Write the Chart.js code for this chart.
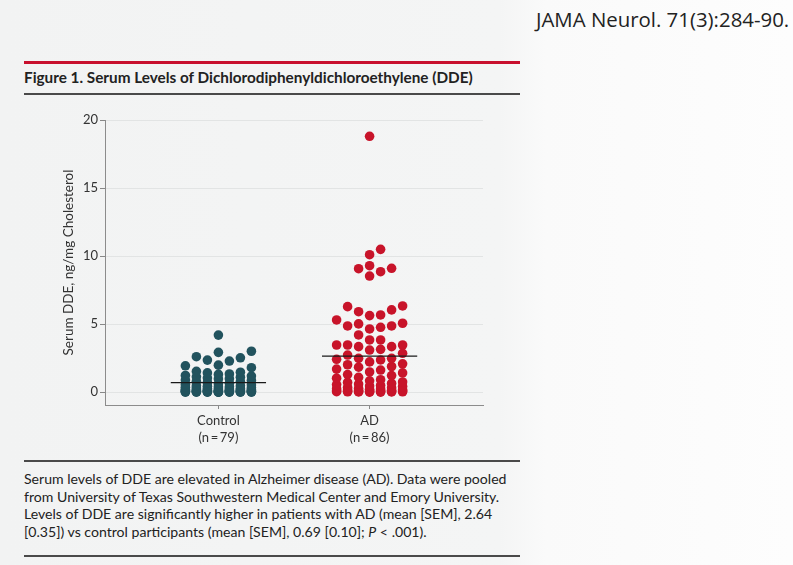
<!DOCTYPE html>
<html>
<head>
<meta charset="utf-8">
<script src="https://cdn.jsdelivr.net/npm/chart.js@4"></script>
<style>
  body { margin: 0; width: 793px; height: 565px; position: relative; overflow: hidden;
         background: linear-gradient(to right, #f2f3f3 0, #f4f5f5 500px, #fafafa 545px, #fdfdfd 100%);
         font-family: Lato, "Open Sans", sans-serif; color: #222; }
  #cite { position: absolute; left: 536px; top: 6px; font: 20.4px/27px "Open Sans", sans-serif; color: #222; }
  .rule { position: absolute; left: 24px; width: 496px; background: #4a4a4a; }
  #red { top: 61px; height: 3px; background: #c8102e; }
  #rule1 { top: 93px; height: 1.5px; }
  #rule2 { top: 460px; height: 1.5px; }
  #rule3 { top: 555px; height: 1.5px; }
  #title { position: absolute; left: 24px; top: 68px; font: bold 15.3px/18px Lato, sans-serif; color: #222; }
  #wrap { position: absolute; left: 0; top: 100px; width: 520px; height: 360px; }
  #caption { position: absolute; left: 24px; top: 470px; width: 500px; font: 14.1px/17.5px Lato, sans-serif; color: #222; }
</style>
</head>
<body>
<div id="cite">JAMA Neurol. 71(3):284-90.</div>
<div class="rule" id="red"></div>
<div id="title">Figure 1. Serum Levels of Dichlorodiphenyldichloroethylene (DDE)</div>
<div class="rule" id="rule1"></div>
<div id="wrap"><canvas id="chart" width="520" height="360"></canvas></div>
<div class="rule" id="rule2"></div>
<div id="caption">Serum levels of DDE are elevated in Alzheimer disease (AD). Data were pooled<br>from University of Texas Southwestern Medical Center and Emory University.<br>Levels of DDE are significantly higher in patients with AD (mean [SEM], 2.64<br>[0.35]) vs control participants (mean [SEM], 0.69 [0.10]; <i>P</i> &lt; .001).</div>
<div class="rule" id="rule3"></div>

<script>
// ---- data ----
const categories = ['Control', 'AD'];
const groupSizes = [79, 86];
const groupMeans = [0.69, 2.64];   // from the legend text
const yTicks = [0, 5, 10, 15, 20];

const controlValues = [
  4.19, 3.0, 2.92, 2.6, 2.52, 2.35, 2.28, 1.98, 1.93, 1.79,
  1.52, 1.46, 1.41, 1.33, 1.3, 1.22, 1.18, 1.12, 1.09, 1.03,
  0.98, 0.96, 0.88, 0.86, 0.79, 0.77, 0.71, 0.64, 0.61, 0.56,
  0.52, 0.47, 0.46, 0.43, 0.39, 0.38, 0.36, 0.31, 0.3, 0.27,
  0.26, 0.23, 0.22, 0.2, 0.18, 0.18, 0.16, 0.14, 0.13, 0.12,
  0.11, 0.1, 0.09, 0.09, 0.08, 0.07, 0.07, 0.06, 0.05, 0.05,
  0.04, 0.04, 0.03, 0.03, 0.02, 0.02, 0.02, 0.01, 0.01, 0.01,
  0.01, 0.0, 0.0, 0.0, 0.0, 0.0, 0.0, 0.0, 0.0
];

const adValues = [
  18.8, 10.49, 10.1, 9.29, 9.1, 9.07, 8.85, 8.53,
  6.33, 6.28, 6.04, 5.91, 5.67, 5.62, 5.3, 5.06, 5.01, 4.86,
  4.86, 4.76, 4.64, 4.2, 3.83, 3.83, 3.46, 3.46, 3.46, 3.34,
  3.34, 3.14, 3.09, 2.85, 2.72, 2.48, 2.48, 2.41, 2.36,
  2.22, 2.08, 2.01, 1.88, 1.83, 1.69, 1.62, 1.48, 1.41, 1.29,
  1.21, 1.08, 1.02, 0.91, 0.83, 0.74, 0.71, 0.63, 0.59, 0.55,
  0.49, 0.44, 0.41, 0.34, 0.31, 0.27, 0.25, 0.23, 0.2, 0.17,
  0.16, 0.14, 0.12, 0.1, 0.1, 0.08, 0.07, 0.06, 0.05, 0.05,
  0.04, 0.03, 0.03, 0.02, 0.02, 0.01, 0.01, 0.0, 0.0
];

const COLORS = ['#22535e', '#c8142a'];
const FONT = { family: 'Lato, "Open Sans", sans-serif', size: 13, lineHeight: 1.3 };

// simple column beeswarm: each point goes to the nearest free column slot,
// or the least crowded one when all seven are taken
function swarm(values, center, xs, ys) {
  const gap = 11, minDist = 10, order = [0, 1, -1, 2, -2, 3, -3];
  const pxPerX = Math.abs(xs.getPixelForValue(1) - xs.getPixelForValue(0));
  const placed = [];
  return values.slice().sort((a, b) => a - b).map(v => {
    const py = ys.getPixelForValue(v);
    let best = 0, bestD = -1;
    for (const c of order) {
      let d = Infinity;
      placed.forEach(p => { d = Math.min(d, Math.hypot((p.c - c) * gap, p.py - py)); });
      if (d >= minDist) { best = c; break; }
      if (d > bestD) { bestD = d; best = c; }
    }
    placed.push({ c: best, py });
    return { x: center + best * gap / pxPerX, y: v };
  });
}

const groups = [controlValues, adValues];

const meanLines = groupMeans.map((m, i) => ({
  type: 'line',
  data: [{ x: i - 0.315, y: m }, { x: i + 0.315, y: m }],
  borderColor: '#1a1a1a', borderWidth: 1.3, pointRadius: 0, order: 0
}));

const dots = groups.map((vals, i) => ({
  type: 'scatter',
  data: vals.map(v => ({ x: i, y: v })),
  backgroundColor: COLORS[i], borderColor: COLORS[i], borderWidth: 0,
  pointRadius: 4.8, order: 1
}));

const chart = new Chart(document.getElementById('chart'), {
  type: 'scatter',
  data: { datasets: [...meanLines, ...dots] },
  options: {
    responsive: false, animation: false, devicePixelRatio: 1,
    layout: { padding: { left: 0, right: 37, top: 20, bottom: 0 } },
    plugins: { legend: { display: false }, tooltip: { enabled: false } },
    scales: {
      x: {
        type: 'linear', min: -0.75, max: 1.75,
        afterBuildTicks: s => { s.ticks = [0, 1].map(v => ({ value: v })); },
        afterFit: s => { s.height = 55; },
        ticks: {
          color: '#333', font: FONT, padding: 3,
          callback: v => [categories[v], '(n\u2009=\u2009' + groupSizes[v] + ')']
        },
        grid: { drawOnChartArea: false, drawTicks: true, tickLength: 4, tickColor: '#888' },
        border: { color: '#8c8c8c', width: 1 }
      },
      y: {
        min: -0.95, max: 20,
        afterBuildTicks: s => { s.ticks = yTicks.map(v => ({ value: v })); },
        afterFit: s => { s.width = 105; },
        ticks: { color: '#333', font: FONT, padding: 2 },
        grid: { color: '#e2e4e4', lineWidth: 1, tickLength: 5, tickColor: '#888' },
        border: { color: '#8c8c8c', width: 1 },
        title: {
          display: true, text: 'Serum DDE, ng/mg Cholesterol',
          color: '#333', font: { family: FONT.family, size: 13.5, lineHeight: 1.2 },
          padding: { top: 61, bottom: 0 }
        }
      }
    }
  }
});

// spread the dots now that the scales exist
dots.forEach((ds, i) => { ds.data = swarm(groups[i], i, chart.scales.x, chart.scales.y); });
chart.update('none');
</script>
</body>
</html>
